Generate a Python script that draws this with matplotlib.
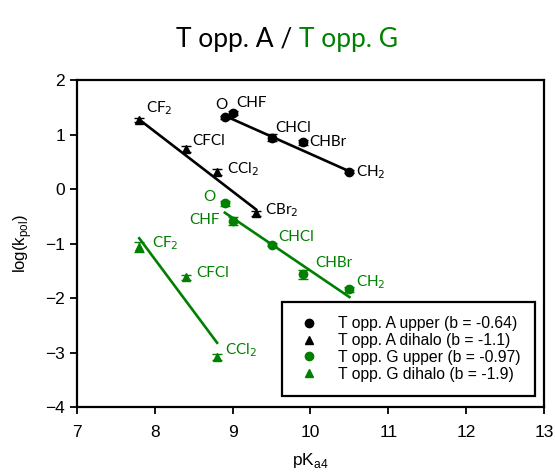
import matplotlib
matplotlib.use('Agg')
import matplotlib.pyplot as plt
from matplotlib.lines import Line2D

# pKa4 / log(kpol) values
a_up_x = [8.9, 9.0, 9.5, 9.9, 10.5]
a_up_y = [1.32, 1.40, 0.95, 0.86, 0.32]
a_up_err = [0.03, 0.03, 0.06, 0.05, 0.03]
a_up_lab = ['O', 'CHF', 'CHCl', 'CHBr', 'CH$_2$']
a_up_fit = ([8.9, 10.5], [1.35, 0.33])

a_di_x = [7.8, 8.4, 8.8, 9.3]
a_di_y = [1.27, 0.74, 0.32, -0.44]
a_di_err = [0.04, 0.05, 0.05, 0.05]
a_di_lab = ['CF$_2$', 'CFCl', 'CCl$_2$', 'CBr$_2$']
a_di_fit = ([7.8, 9.3], [1.28, -0.37])

g_up_x = [8.9, 9.0, 9.5, 9.9, 10.5]
g_up_y = [-0.26, -0.58, -1.02, -1.56, -1.84]
g_up_err = [0.04, 0.07, 0.03, 0.08, 0.04]
g_up_lab = ['O', 'CHF', 'CHCl', 'CHBr', 'CH$_2$']
g_up_fit = ([8.9, 10.5], [-0.43, -1.98])

g_di_x = [7.8, 8.4, 8.8]
g_di_y = [-1.06, -1.62, -3.08]
g_di_err = [0.1, 0.05, 0.05]
g_di_lab = ['CF$_2$', 'CFCl', 'CCl$_2$']
g_di_fit = ([7.8, 8.8], [-0.9, -2.82])

legend_lab = ['T opp. A upper (b = -0.64)', 'T opp. A dihalo (b = -1.1)',
              'T opp. G upper (b = -0.97)', 'T opp. G dihalo (b = -1.9)']

GREEN = '#008000'
px = 0.72  # points per pixel at 100 dpi

# label offsets in pixels (dx, dy, ha)
a_up_off = [(-3, 12, 'center'), (4, 10, 'left'), (4, 10, 'left'), (7, 0, 'left'), (7, 0, 'left')]
a_di_off = [(7, 12, 'left'), (6, 8, 'left'), (10, 3, 'left'), (9, 3, 'left')]
g_up_off = [(-15, 6, 'center'), (-13, 1, 'right'), (7, 8, 'left'), (13, 11, 'left'), (7, 7, 'left')]
g_di_off = [(13, 4, 'left'), (10, 4, 'left'), (8, 7, 'left')]

plt.rcParams['font.family'] = ['Liberation Sans', 'DejaVu Sans']

fig = plt.figure(figsize=(5.55, 4.73), dpi=100)
ax = fig.add_axes([0.1387, 0.1395, 0.8415, 0.6905])

def draw(x, y, err, fit, labs, offs, marker, color):
    ax.errorbar(x, y, yerr=err, fmt=marker, color=color, ms=6, capsize=3.5,
                elinewidth=1, capthick=1, linestyle='none', zorder=3)
    ax.plot(fit[0], fit[1], color=color, lw=1.9, zorder=2)
    for xi, yi, t, (dx, dy, ha) in zip(x, y, labs, offs):
        ax.annotate(t, (xi, yi), xytext=(dx * px, dy * px), textcoords='offset points',
                    ha=ha, va='center', fontsize=11, color=color, family='Lato')

draw(a_up_x, a_up_y, a_up_err, a_up_fit, a_up_lab, a_up_off, 'o', 'black')
draw(a_di_x, a_di_y, a_di_err, a_di_fit, a_di_lab, a_di_off, '^', 'black')
draw(g_up_x, g_up_y, g_up_err, g_up_fit, g_up_lab, g_up_off, 'o', GREEN)
draw(g_di_x, g_di_y, g_di_err, g_di_fit, g_di_lab, g_di_off, '^', GREEN)

ax.set_xlim(7, 13)
ax.set_ylim(-4, 2)
ax.set_xticks(range(7, 14))
ax.set_yticks(range(-4, 3))
ax.tick_params(direction='out', length=5, width=1.3, labelsize=12.5, top=False, right=False)
ax.tick_params(axis='x', pad=8)
for s in ax.spines.values():
    s.set_linewidth(1.6)
ax.set_xlabel('pK$_\\mathregular{a4}$', fontsize=12.5, labelpad=8)
ax.set_ylabel('log(k$_\\mathregular{pol}$)', fontsize=12, labelpad=8)

handles = [Line2D([], [], marker='o', color='black', ls='none', ms=6),
           Line2D([], [], marker='^', color='black', ls='none', ms=6),
           Line2D([], [], marker='o', color=GREEN, ls='none', ms=6),
           Line2D([], [], marker='^', color=GREEN, ls='none', ms=6)]
leg = ax.legend(handles, legend_lab, loc='lower right', bbox_to_anchor=(0.997, 0.01), fontsize=11.3,
                fancybox=False, edgecolor='black', framealpha=1, handletextpad=1.0,
                borderpad=0.9, labelspacing=0.12, handlelength=1.7)
leg.get_frame().set_linewidth(1.6)

fig.text(292 / 555, 1 - 40 / 473, 'T opp. A /', ha='right', va='center', fontsize=19, family='Lato')
fig.text(299 / 555, 1 - 40 / 473, 'T opp. G', ha='left', va='center', fontsize=19, family='Lato', color=GREEN)

fig.savefig('out.png', dpi=100)
